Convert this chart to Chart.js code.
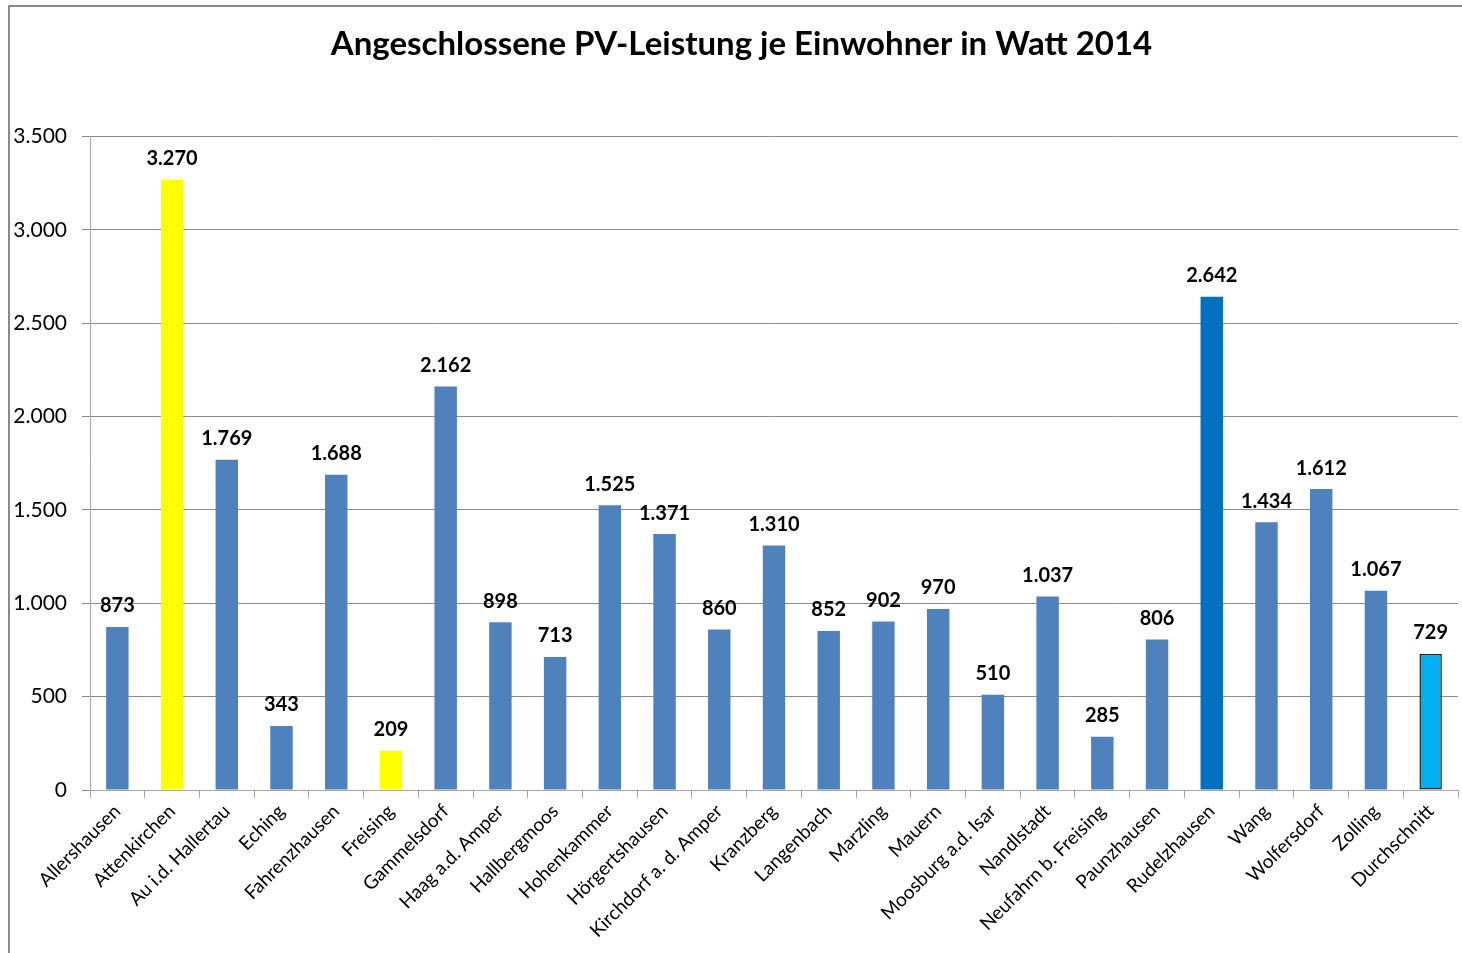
<!DOCTYPE html>
<html>
<head>
<meta charset="utf-8">
<script src="https://cdn.jsdelivr.net/npm/chart.js@4"></script>
<style>
  html, body { margin: 0; padding: 0; background: #fff; overflow: hidden; }
  #frame {
    position: absolute; left: 8px; top: 5px;
    width: 1460px; height: 960px; overflow: hidden;
    border-left: 2px solid #8a8a8a; border-top: 2px solid #8a8a8a;
  }
  #wrap { position: absolute; left: 0; top: 0; width: 1467px; height: 946px; }
</style>
</head>
<body>
<div id="frame"><div id="wrap"><canvas id="myChart"></canvas></div></div>
<script>
// Data
var labels = ['Allershausen', 'Attenkirchen', 'Au i.d. Hallertau', 'Eching', 'Fahrenzhausen',
  'Freising', 'Gammelsdorf', 'Haag a.d. Amper', 'Hallbergmoos', 'Hohenkammer',
  'Hörgertshausen', 'Kirchdorf a. d. Amper', 'Kranzberg', 'Langenbach', 'Marzling',
  'Mauern', 'Moosburg a.d. Isar', 'Nandlstadt', 'Neufahrn b. Freising', 'Paunzhausen',
  'Rudelzhausen', 'Wang', 'Wolfersdorf', 'Zolling', 'Durchschnitt'];
var values = [873, 3270, 1769, 343, 1688, 209, 2162, 898, 713, 1525, 1371, 860, 1310,
  852, 902, 970, 510, 1037, 285, 806, 2642, 1434, 1612, 1067, 729];
var yTicks = [0, 500, 1000, 1500, 2000, 2500, 3000, 3500];

var blue = '#4f81bd';
var colors = values.map(function (v, i) {
  if (labels[i] == 'Attenkirchen' || labels[i] == 'Freising') return '#ffff00';
  if (labels[i] == 'Rudelzhausen') return '#0070c0';
  if (labels[i] == 'Durchschnitt') return '#00b0f0';
  return blue;
});
var borders = labels.map(function (l) { return l == 'Durchschnitt' ? '#222' : 'rgba(0,0,0,0)'; });
var borderWidths = labels.map(function (l) { return l == 'Durchschnitt' ? 1.5 : 0; });

// German thousands separator
function fmt(v) {
  return String(v).replace(/\B(?=(\d{3})+(?!\d))/g, '.');
}

var FONT = 'Lato, "Open Sans", sans-serif';

// Value labels above the bars
var valueLabels = {
  id: 'valueLabels',
  afterDatasetsDraw: function (chart) {
    var ctx = chart.ctx;
    var meta = chart.getDatasetMeta(0);
    ctx.save();
    ctx.font = 'bold 20px ' + FONT;
    ctx.fillStyle = '#000';
    ctx.textAlign = 'center';
    ctx.textBaseline = 'bottom';
    meta.data.forEach(function (bar, i) {
      ctx.fillText(fmt(values[i]), bar.x, bar.y - 11);
    });
    ctx.restore();
  }
};

var ctx = document.getElementById('myChart').getContext('2d');
var myChart = new Chart(ctx, {
  type: 'bar',
  data: {
    labels: labels,
    datasets: [{
      data: values,
      backgroundColor: colors,
      borderColor: borders,
      borderWidth: borderWidths,
      borderSkipped: false,
      categoryPercentage: 1.0,
      barPercentage: 0.41
    }]
  },
  options: {
    responsive: true,
    maintainAspectRatio: false,
    animation: false,
    layout: { padding: { left: 0, right: 4, top: 0, bottom: 0 } },
    plugins: {
      legend: { display: false },
      tooltip: { enabled: false },
      title: {
        display: true,
        text: 'Angeschlossene PV-Leistung je Einwohner in Watt 2014',
        color: '#000',
        font: { family: FONT, size: 33, weight: 'bold', lineHeight: 1.2 },
        padding: { top: 18, bottom: 72 }
      }
    },
    scales: {
      x: {
        grid: { display: true, drawOnChartArea: false, drawTicks: true, tickLength: 8, color: '#a6a6a6', offset: true },
        border: { color: '#a6a6a6', width: 1 },
        ticks: {
          color: '#000',
          font: { family: FONT, size: 19 },
          minRotation: 45, maxRotation: 45,
          autoSkip: false,
          padding: 2
        },
        afterFit: function (scale) { scale.height = 163; }
      },
      y: {
        min: 0, max: 3500,
        afterBuildTicks: function (scale) {
          scale.ticks = yTicks.map(function (v) { return { value: v }; });
        },
        grid: { color: '#8c8c8c', tickLength: 8, drawTicks: true },
        border: { color: '#a6a6a6', width: 1 },
        ticks: {
          color: '#000',
          font: { family: FONT, size: 21 },
          padding: 15,
          callback: function (v) { return fmt(v); }
        },
        afterFit: function (scale) { scale.width = 80; }
      },
      // empty spacer on the right so the title sits where it does in the original
      spacer: {
        type: 'linear',
        position: 'right',
        display: true,
        grid: { display: false },
        border: { display: false },
        ticks: { display: false },
        afterFit: function (scale) { scale.width = 15; }
      }
    }
  },
  plugins: [valueLabels]
});
</script>
</body>
</html>
